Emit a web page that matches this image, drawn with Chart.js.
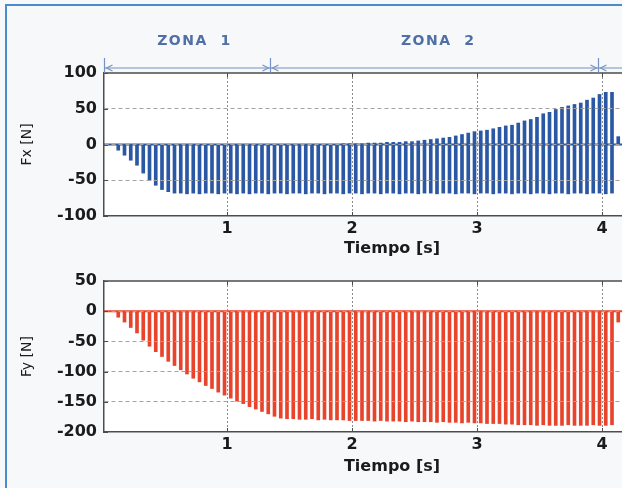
<!DOCTYPE html>
<html>
<head>
<meta charset="utf-8">
<script src="https://cdn.jsdelivr.net/npm/chart.js@4.4.0/dist/chart.umd.min.js"></script>
<style>
  html, body { margin: 0; padding: 0; background: #f7f8fa; overflow: hidden; }
  #marco { position: absolute; left: 0; top: 0; width: 622px; height: 488px; overflow: hidden; }
  #borde { position: absolute; left: 5px; top: 4px; width: 640px; height: 500px;
           border-left: 2px solid #4a8ccb; border-top: 2px solid #4a8ccb; }
  canvas { position: absolute; left: 0; }
</style>
</head>
<body>
<div id="marco">
  <div id="borde"></div>
  <canvas id="gFx" width="680" height="262" style="top:0"></canvas>
  <canvas id="gFy" width="680" height="226" style="top:262px"></canvas>
</div>
<script>
// Instantes de cada pulso (s)
const tiempos = [
  0.13, 0.18, 0.23, 0.28, 0.33, 0.38, 0.43, 0.48, 0.53, 0.58,
  0.63, 0.68, 0.73, 0.78, 0.83, 0.88, 0.93, 0.98, 1.03, 1.08,
  1.13, 1.18, 1.23, 1.28, 1.33, 1.38, 1.43, 1.48, 1.53, 1.58,
  1.63, 1.68, 1.73, 1.78, 1.83, 1.88, 1.93, 1.98, 2.03, 2.08,
  2.13, 2.18, 2.23, 2.28, 2.33, 2.38, 2.43, 2.48, 2.53, 2.58,
  2.63, 2.68, 2.73, 2.78, 2.83, 2.88, 2.93, 2.98, 3.03, 3.08,
  3.13, 3.18, 3.23, 3.28, 3.33, 3.38, 3.43, 3.48, 3.53, 3.58,
  3.63, 3.68, 3.73, 3.78, 3.83, 3.88, 3.93, 3.98, 4.03, 4.08,
  4.13
];

// Fx [N]: extremo inferior y superior de cada pulso
const fxMin = [
  -8, -15, -22, -29, -40, -50, -57, -63, -66, -68,
  -68, -69, -68, -69, -68, -68, -69, -68, -68, -69,
  -68, -69, -68, -68, -69, -68, -68, -69, -68, -68,
  -69, -68, -68, -69, -68, -68, -69, -68, -68, -69,
  -68, -68, -69, -68, -68, -69, -68, -68, -69, -68,
  -68, -69, -68, -68, -69, -68, -68, -69, -68, -68,
  -69, -68, -68, -69, -68, -68, -69, -68, -68, -69,
  -68, -68, -69, -68, -68, -69, -68, -68, -69, -68,
  0
];
const fxMax = [
  0, 0, 0, 0, 0, 0, 0, 0, 0, 0,
  0, 0, 0, 0, 0, 0, 0, 0, 0, 0,
  0, 0, 0, 0, 0, 0, 0, 0, 0, 0,
  0, 0, 0, 0, 0, 0, 1, 1, 1, 1,
  2, 2, 2, 3, 3, 3, 4, 4, 5, 6,
  7, 8, 9, 10, 12, 14, 16, 18, 19, 20,
  22, 24, 26, 27, 30, 33, 35, 38, 43, 45,
  49, 52, 54, 56, 58, 62, 65, 70, 73, 73,
  11
];

// Fy [N]: extremo inferior de cada pulso (el superior es 0)
const fyMin = [
  -10, -18, -27, -36, -48, -58, -67, -75, -83, -90,
  -97, -104, -111, -117, -123, -128, -134, -139, -144, -149,
  -153, -158, -162, -166, -170, -174, -177, -178, -178, -179,
  -179, -178, -180, -179, -180, -180, -180, -181, -181, -181,
  -181, -182, -181, -182, -182, -182, -183, -182, -183, -183,
  -183, -184, -183, -184, -184, -185, -184, -185, -185, -186,
  -186, -186, -187, -187, -188, -188, -188, -189, -188, -189,
  -189, -189, -188, -189, -189, -189, -188, -189, -189, -188,
  -18
];
const fyMax = fyMin.map(() => 0);

const ticksX = [1, 2, 3, 4];
const ticksFx = [-100, -50, 0, 50, 100];
const ticksFy = [-200, -150, -100, -50, 0, 50];

// zonas del ensayo (s)
const zonaLimites = [0.016, 1.34, 3.97];
const zonaCentros = [0.74, 2.69];
const zonaNombres = ['ZONA  1', 'ZONA  2'];

const X_MIN = 0.016;
const X_MAX = 4.624;
const TEXTO = '#1b1b1b';
const EJE = '#4d4d4d';

Chart.defaults.font.family = "'DejaVu Sans', sans-serif";
Chart.defaults.color = TEXTO;

// fondo blanco, linea de cero, marco superior y marcas hacia dentro
const marcoPlugin = {
  id: 'marco',
  beforeDraw(chart) {
    const { ctx, chartArea: a } = chart;
    ctx.save();
    ctx.fillStyle = '#ffffff';
    ctx.fillRect(a.left, a.top, a.right - a.left, a.bottom - a.top);
    ctx.restore();
  },
  beforeDatasetsDraw(chart, args, opts) {
    const { ctx, chartArea: a, scales: { y } } = chart;
    const y0 = y.getPixelForValue(0);
    ctx.save();
    ctx.strokeStyle = opts.color;
    ctx.lineWidth = 2;
    ctx.beginPath();
    ctx.moveTo(a.left, y0);
    ctx.lineTo(a.right, y0);
    ctx.stroke();
    ctx.restore();
  },
  afterDraw(chart, args, opts) {
    const { ctx, chartArea: a, scales: { x, y } } = chart;
    ctx.save();
    ctx.strokeStyle = EJE;
    ctx.lineWidth = 1.5;
    ctx.beginPath();
    ctx.moveTo(a.left, a.top);
    ctx.lineTo(a.right, a.top);
    ctx.stroke();
    ctx.lineWidth = 1;
    ctx.beginPath();
    for (const v of ticksX) {
      const px = Math.round(x.getPixelForValue(v)) + 0.5;
      ctx.moveTo(px, a.top);
      ctx.lineTo(px, a.top + 4);
      ctx.moveTo(px, a.bottom);
      ctx.lineTo(px, a.bottom - 4);
    }
    for (const v of opts.ticksY) {
      const py = Math.round(y.getPixelForValue(v)) + 0.5;
      ctx.moveTo(a.left, py);
      ctx.lineTo(a.left + 4, py);
    }
    ctx.stroke();
    ctx.restore();
  }
};

// flechas y rotulos de zonas sobre el grafico de Fx
const zonasPlugin = {
  id: 'zonas',
  afterDraw(chart) {
    const { ctx, chartArea: a, scales: { x } } = chart;
    const yL = 68, yTop = 58;
    ctx.save();
    ctx.strokeStyle = '#7592c4';
    ctx.lineWidth = 1.2;
    ctx.beginPath();
    ctx.moveTo(x.getPixelForValue(zonaLimites[0]), yL);
    ctx.lineTo(chart.width, yL);
    ctx.stroke();
    zonaLimites.forEach((lim, i) => {
      const px = Math.round(x.getPixelForValue(lim)) + 0.5;
      ctx.beginPath();
      ctx.moveTo(px, yTop);
      ctx.lineTo(px, a.top);
      ctx.moveTo(px + 8, yL - 3);
      ctx.lineTo(px + 2, yL);
      ctx.lineTo(px + 8, yL + 3);
      if (i > 0) {
        ctx.moveTo(px - 8, yL - 3);
        ctx.lineTo(px - 2, yL);
        ctx.lineTo(px - 8, yL + 3);
      }
      ctx.stroke();
    });
    ctx.fillStyle = '#4f6fa6';
    ctx.font = "bold 14px 'DejaVu Sans', sans-serif";
    ctx.letterSpacing = '1.5px';
    ctx.textAlign = 'center';
    ctx.textBaseline = 'middle';
    zonaNombres.forEach((nombre, i) => {
      ctx.fillText(nombre, x.getPixelForValue(zonaCentros[i]), 41);
    });
    ctx.restore();
  }
};

function crearGrafico(id, minimos, maximos, ticksY, color, tituloY, padTop, altoX, padTitulo, extras) {
  const ctx = document.getElementById(id).getContext('2d');
  const datos = tiempos.map((t, i) => ({ x: t, y: [minimos[i], maximos[i]] }));
  const yMin = ticksY[0];
  const yMax = ticksY[ticksY.length - 1];
  return new Chart(ctx, {
    type: 'bar',
    data: {
      datasets: [{
        data: datos,
        backgroundColor: color,
        borderWidth: 0,
        barThickness: 3,
        grouped: false
      }]
    },
    options: {
      responsive: false,
      animation: false,
      devicePixelRatio: 1,
      layout: { padding: { top: padTop, left: 0, right: 0, bottom: 0 } },
      plugins: {
        legend: { display: false },
        tooltip: { enabled: false },
        marco: { color: color, ticksY: ticksY }
      },
      scales: {
        x: {
          type: 'linear',
          min: X_MIN,
          max: X_MAX,
          offset: false,
          afterBuildTicks: s => { s.ticks = ticksX.map(v => ({ value: v })); },
          afterFit: s => { s.height = altoX; },
          ticks: {
            padding: 3,
            maxRotation: 0,
            font: { size: 16, weight: 'bold' },
            callback: v => String(v)
          },
          grid: { offset: false, drawTicks: false, color: '#8c8c8c', lineWidth: 1, z: 1 },
          border: { display: true, color: EJE, width: 1.5, dash: [2, 2], z: 2 },
          title: {
            display: true,
            text: 'Tiempo [s]',
            font: { size: 16, weight: 'bold' },
            padding: { top: 0, bottom: padTitulo }
          }
        },
        y: {
          min: yMin,
          max: yMax,
          afterBuildTicks: s => { s.ticks = ticksY.map(v => ({ value: v })); },
          afterFit: s => { s.width = 104; },
          ticks: {
            padding: 7,
            font: { size: 16, weight: 'bold' },
            callback: v => String(v)
          },
          grid: {
            drawTicks: false,
            lineWidth: 1,
            z: 1,
            color: c => (c.tick && (c.tick.value === yMin || c.tick.value === yMax)) ? 'rgba(0,0,0,0)' : '#a3a3a3'
          },
          border: { display: true, color: EJE, width: 1.5, dash: [4, 3], z: 2 },
          title: {
            display: true,
            text: tituloY,
            font: { size: 14 },
            padding: { top: 19, bottom: 0 }
          }
        }
      }
    },
    plugins: [marcoPlugin].concat(extras)
  });
}

crearGrafico('gFx', fxMin, fxMax, ticksFx, '#2b58a5', 'Fx [N]', 73, 46, 4, [zonasPlugin]);
crearGrafico('gFy', fyMin, fyMax, ticksFy, '#e8432b', 'Fy [N]', 19, 56, 12, []);
</script>
</body>
</html>
